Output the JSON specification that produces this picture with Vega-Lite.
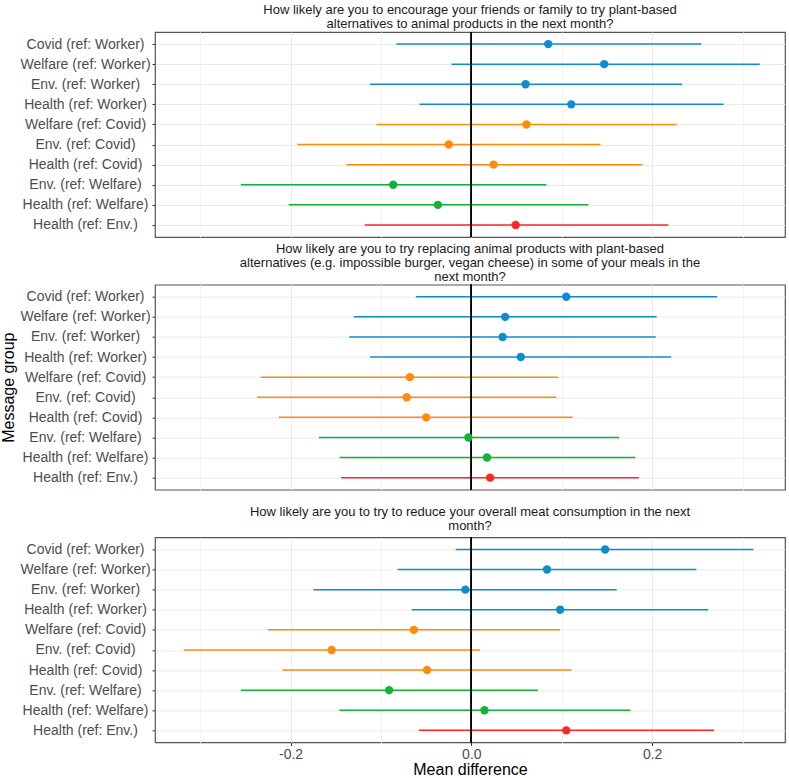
{
  "$schema": "https://vega.github.io/schema/vega-lite/v6.json",
  "padding": {"left": 0, "top": 3, "right": 2, "bottom": 0},
  "background": "white",
  "data": {"values": [
    {"q": 1, "label": "Covid (ref: Worker)", "ref": "Worker", "est": 0.085, "lo": -0.083, "hi": 0.2545},
    {"q": 1, "label": "Welfare (ref: Worker)", "ref": "Worker", "est": 0.147, "lo": -0.022, "hi": 0.319},
    {"q": 1, "label": "Env. (ref: Worker)", "ref": "Worker", "est": 0.060, "lo": -0.112, "hi": 0.233},
    {"q": 1, "label": "Health (ref: Worker)", "ref": "Worker", "est": 0.1105, "lo": -0.0575, "hi": 0.279},
    {"q": 1, "label": "Welfare (ref: Covid)", "ref": "Covid", "est": 0.061, "lo": -0.105, "hi": 0.227},
    {"q": 1, "label": "Env. (ref: Covid)", "ref": "Covid", "est": -0.025, "lo": -0.1926, "hi": 0.143},
    {"q": 1, "label": "Health (ref: Covid)", "ref": "Covid", "est": 0.0246, "lo": -0.138, "hi": 0.189},
    {"q": 1, "label": "Env. (ref: Welfare)", "ref": "Welfare", "est": -0.0865, "lo": -0.255, "hi": 0.083},
    {"q": 1, "label": "Health (ref: Welfare)", "ref": "Welfare", "est": -0.037, "lo": -0.202, "hi": 0.1295},
    {"q": 1, "label": "Health (ref: Env.)", "ref": "Env", "est": 0.049, "lo": -0.118, "hi": 0.218},
    {"q": 2, "label": "Covid (ref: Worker)", "ref": "Worker", "est": 0.105, "lo": -0.0614, "hi": 0.272},
    {"q": 2, "label": "Welfare (ref: Worker)", "ref": "Worker", "est": 0.0374, "lo": -0.130, "hi": 0.205},
    {"q": 2, "label": "Env. (ref: Worker)", "ref": "Worker", "est": 0.0346, "lo": -0.135, "hi": 0.204},
    {"q": 2, "label": "Health (ref: Worker)", "ref": "Worker", "est": 0.0547, "lo": -0.112, "hi": 0.221},
    {"q": 2, "label": "Welfare (ref: Covid)", "ref": "Covid", "est": -0.068, "lo": -0.233, "hi": 0.096},
    {"q": 2, "label": "Env. (ref: Covid)", "ref": "Covid", "est": -0.0715, "lo": -0.237, "hi": 0.094},
    {"q": 2, "label": "Health (ref: Covid)", "ref": "Covid", "est": -0.050, "lo": -0.213, "hi": 0.112},
    {"q": 2, "label": "Env. (ref: Welfare)", "ref": "Welfare", "est": -0.0033, "lo": -0.1686, "hi": 0.1635},
    {"q": 2, "label": "Health (ref: Welfare)", "ref": "Welfare", "est": 0.0173, "lo": -0.1457, "hi": 0.1814},
    {"q": 2, "label": "Health (ref: Env.)", "ref": "Env", "est": 0.0207, "lo": -0.144, "hi": 0.1853},
    {"q": 3, "label": "Covid (ref: Worker)", "ref": "Worker", "est": 0.148, "lo": -0.0173, "hi": 0.312},
    {"q": 3, "label": "Welfare (ref: Worker)", "ref": "Worker", "est": 0.0837, "lo": -0.0815, "hi": 0.249},
    {"q": 3, "label": "Env. (ref: Worker)", "ref": "Worker", "est": -0.0067, "lo": -0.1747, "hi": 0.1608},
    {"q": 3, "label": "Health (ref: Worker)", "ref": "Worker", "est": 0.0982, "lo": -0.0659, "hi": 0.262},
    {"q": 3, "label": "Welfare (ref: Covid)", "ref": "Covid", "est": -0.0636, "lo": -0.225, "hi": 0.0982},
    {"q": 3, "label": "Env. (ref: Covid)", "ref": "Covid", "est": -0.1546, "lo": -0.318, "hi": 0.0095},
    {"q": 3, "label": "Health (ref: Covid)", "ref": "Covid", "est": -0.049, "lo": -0.209, "hi": 0.111},
    {"q": 3, "label": "Env. (ref: Welfare)", "ref": "Welfare", "est": -0.091, "lo": -0.255, "hi": 0.0737},
    {"q": 3, "label": "Health (ref: Welfare)", "ref": "Welfare", "est": 0.0145, "lo": -0.146, "hi": 0.176},
    {"q": 3, "label": "Health (ref: Env.)", "ref": "Env", "est": 0.105, "lo": -0.058, "hi": 0.2685}
  ]},
  "bounds": "flush",
  "spacing": 47.7,
  "vconcat": [
    {
      "width": 630, "height": 205,
      "title": {"text": ["How likely are you to encourage your friends or family to try plant-based", "alternatives to animal products in the next month?"], "offset": 0, "lineHeight": 14.5},
      "transform": [{"filter": "datum.q == 1"}],
      "layer": [
        {"mark": {"type": "rule", "strokeWidth": 1.5},
         "encoding": {
           "y": {"field": "label", "type": "nominal", "sort": ["Covid (ref: Worker)", "Welfare (ref: Worker)", "Env. (ref: Worker)", "Health (ref: Worker)", "Welfare (ref: Covid)", "Env. (ref: Covid)", "Health (ref: Covid)", "Env. (ref: Welfare)", "Health (ref: Welfare)", "Health (ref: Env.)"], "scale": {"type": "point", "padding": 0.6}, "axis": {"title": null}},
           "x": {"field": "lo", "type": "quantitative", "scale": {"domain": [-0.35, 0.347], "nice": false, "zero": false}, "axis": {"title": null, "labels": false, "ticks": false, "values": [-0.3, -0.2, -0.1, 0, 0.1, 0.2, 0.3], "gridColor": {"condition": {"test": "abs(round(datum.value*10)) % 2 == 1", "value": "#f5f5f5"}, "value": "#ebebeb"}}},
           "x2": {"field": "hi"},
           "color": {"field": "ref", "type": "nominal", "scale": {"domain": ["Worker", "Covid", "Welfare", "Env"], "range": ["#0f8ccf", "#ff8c0a", "#12b23a", "#ff2626"]}, "legend": null}
         }},
        {"mark": {"type": "rule", "color": "black", "strokeWidth": 1.1}, "encoding": {"x": {"datum": 0}}},
        {"mark": {"type": "point", "filled": true, "size": 70, "opacity": 1},
         "encoding": {
           "y": {"field": "label", "type": "nominal", "sort": ["Covid (ref: Worker)", "Welfare (ref: Worker)", "Env. (ref: Worker)", "Health (ref: Worker)", "Welfare (ref: Covid)", "Env. (ref: Covid)", "Health (ref: Covid)", "Env. (ref: Welfare)", "Health (ref: Welfare)", "Health (ref: Env.)"]},
           "x": {"field": "est", "type": "quantitative"},
           "color": {"field": "ref", "type": "nominal", "legend": null}
         }}
      ]
    },
    {
      "width": 630, "height": 205,
      "title": {"text": ["How likely are you to try replacing animal products with plant-based", "alternatives (e.g. impossible burger, vegan cheese) in some of your meals in the", "next month?"], "offset": 0, "lineHeight": 14},
      "transform": [{"filter": "datum.q == 2"}],
      "layer": [
        {"mark": {"type": "rule", "strokeWidth": 1.5},
         "encoding": {
           "y": {"field": "label", "type": "nominal", "sort": ["Covid (ref: Worker)", "Welfare (ref: Worker)", "Env. (ref: Worker)", "Health (ref: Worker)", "Welfare (ref: Covid)", "Env. (ref: Covid)", "Health (ref: Covid)", "Env. (ref: Welfare)", "Health (ref: Welfare)", "Health (ref: Env.)"], "scale": {"type": "point", "padding": 0.6}, "axis": {"title": "Message group"}},
           "x": {"field": "lo", "type": "quantitative", "scale": {"domain": [-0.35, 0.347], "nice": false, "zero": false}, "axis": {"title": null, "labels": false, "ticks": false, "values": [-0.3, -0.2, -0.1, 0, 0.1, 0.2, 0.3], "gridColor": {"condition": {"test": "abs(round(datum.value*10)) % 2 == 1", "value": "#f5f5f5"}, "value": "#ebebeb"}}},
           "x2": {"field": "hi"},
           "color": {"field": "ref", "type": "nominal", "scale": {"domain": ["Worker", "Covid", "Welfare", "Env"], "range": ["#0f8ccf", "#ff8c0a", "#12b23a", "#ff2626"]}, "legend": null}
         }},
        {"mark": {"type": "rule", "color": "black", "strokeWidth": 1.1}, "encoding": {"x": {"datum": 0}}},
        {"mark": {"type": "point", "filled": true, "size": 70, "opacity": 1},
         "encoding": {
           "y": {"field": "label", "type": "nominal", "sort": ["Covid (ref: Worker)", "Welfare (ref: Worker)", "Env. (ref: Worker)", "Health (ref: Worker)", "Welfare (ref: Covid)", "Env. (ref: Covid)", "Health (ref: Covid)", "Env. (ref: Welfare)", "Health (ref: Welfare)", "Health (ref: Env.)"]},
           "x": {"field": "est", "type": "quantitative"},
           "color": {"field": "ref", "type": "nominal", "legend": null}
         }}
      ]
    },
    {
      "width": 630, "height": 205,
      "title": {"text": ["How likely are you to try to reduce your overall meat consumption in the next", "month?"], "offset": 4, "lineHeight": 14},
      "transform": [{"filter": "datum.q == 3"}],
      "layer": [
        {"mark": {"type": "rule", "strokeWidth": 1.5},
         "encoding": {
           "y": {"field": "label", "type": "nominal", "sort": ["Covid (ref: Worker)", "Welfare (ref: Worker)", "Env. (ref: Worker)", "Health (ref: Worker)", "Welfare (ref: Covid)", "Env. (ref: Covid)", "Health (ref: Covid)", "Env. (ref: Welfare)", "Health (ref: Welfare)", "Health (ref: Env.)"], "scale": {"type": "point", "padding": 0.6}, "axis": {"title": null}},
           "x": {"field": "lo", "type": "quantitative", "scale": {"domain": [-0.35, 0.347], "nice": false, "zero": false}, "axis": {"title": "Mean difference", "values": [-0.3, -0.2, -0.1, 0, 0.1, 0.2, 0.3], "labelExpr": "abs(round(datum.value*10)) % 2 == 1 ? '' : (datum.value < 0 ? '-' + format(abs(datum.value), '.1f') : format(datum.value, '.1f'))", "tickColor": {"condition": {"test": "abs(round(datum.value*10)) % 2 == 1", "value": "transparent"}, "value": "#333333"}, "gridColor": {"condition": {"test": "abs(round(datum.value*10)) % 2 == 1", "value": "#f5f5f5"}, "value": "#ebebeb"}, "labelPadding": 2, "titlePadding": 0}},
           "x2": {"field": "hi"},
           "color": {"field": "ref", "type": "nominal", "scale": {"domain": ["Worker", "Covid", "Welfare", "Env"], "range": ["#0f8ccf", "#ff8c0a", "#12b23a", "#ff2626"]}, "legend": null}
         }},
        {"mark": {"type": "rule", "color": "black", "strokeWidth": 1.1}, "encoding": {"x": {"datum": 0}}},
        {"mark": {"type": "point", "filled": true, "size": 70, "opacity": 1},
         "encoding": {
           "y": {"field": "label", "type": "nominal", "sort": ["Covid (ref: Worker)", "Welfare (ref: Worker)", "Env. (ref: Worker)", "Health (ref: Worker)", "Welfare (ref: Covid)", "Env. (ref: Covid)", "Health (ref: Covid)", "Env. (ref: Welfare)", "Health (ref: Welfare)", "Health (ref: Env.)"]},
           "x": {"field": "est", "type": "quantitative"},
           "color": {"field": "ref", "type": "nominal", "legend": null}
         }}
      ]
    }
  ],
  "config": {
    "font": "Liberation Sans",
    "view": {"stroke": "#555555", "strokeWidth": 1.2},
    "title": {"font": "Liberation Sans", "fontSize": 13, "fontWeight": "normal", "color": "#1a1a1a", "anchor": "middle"},
    "axis": {"labelFont": "Liberation Sans", "titleFont": "Liberation Sans", "domain": false, "grid": true, "gridColor": "#ebebeb", "gridWidth": 1, "tickColor": "#333333", "tickSize": 3, "labelColor": "#4d4d4d", "labelFontSize": 14, "titleFontSize": 16, "titleFontWeight": "normal", "titleColor": "#000000"},
    "axisY": {"labelAlign": "center", "labelPadding": 67, "labelLimit": 0, "titlePadding": 3}
  }
}
